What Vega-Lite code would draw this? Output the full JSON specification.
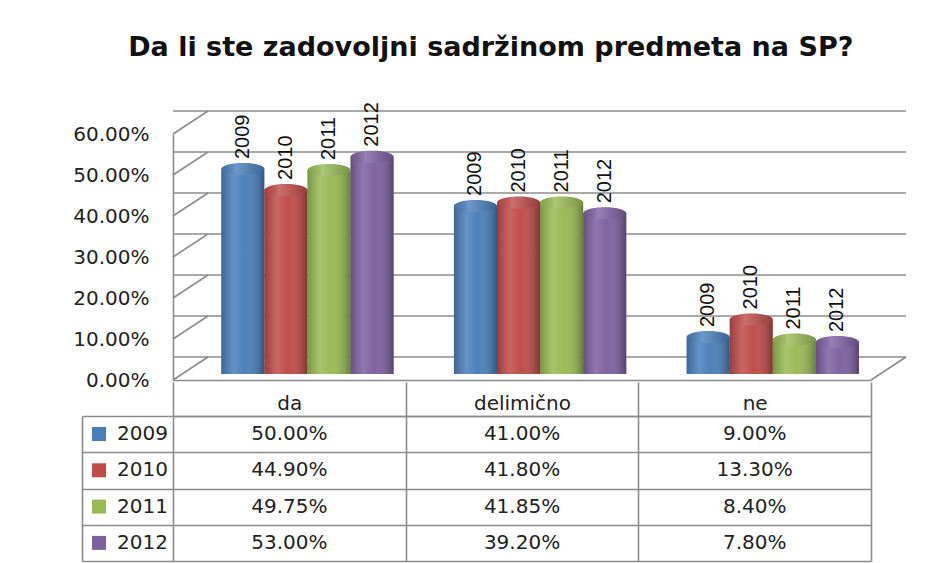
{
  "$schema": "https://vega.github.io/schema/vega-lite/v6.json",
  "padding": {"left": 72, "top": 34, "right": 10, "bottom": 4},
  "background": "white",
  "title": {"text": "Da li ste zadovoljni sadržinom predmeta na SP?", "font": "DejaVu Sans", "fontSize": 27, "fontWeight": "bold", "color": "#111111", "anchor": "middle", "dx": 1, "offset": 40},
  "datasets": {
    "main": [
      {"cat": "da", "year": "2009", "value": 0.5},
      {"cat": "da", "year": "2010", "value": 0.449},
      {"cat": "da", "year": "2011", "value": 0.4975},
      {"cat": "da", "year": "2012", "value": 0.53},
      {"cat": "delimično", "year": "2009", "value": 0.41},
      {"cat": "delimično", "year": "2010", "value": 0.418},
      {"cat": "delimično", "year": "2011", "value": 0.4185},
      {"cat": "delimično", "year": "2012", "value": 0.392},
      {"cat": "ne", "year": "2009", "value": 0.09},
      {"cat": "ne", "year": "2010", "value": 0.133},
      {"cat": "ne", "year": "2011", "value": 0.084},
      {"cat": "ne", "year": "2012", "value": 0.078}
    ],
    "ticks": [{"v": 0}, {"v": 0.1}, {"v": 0.2}, {"v": 0.3}, {"v": 0.4}, {"v": 0.5}, {"v": 0.6}]
  },
  "spacing": 36,
  "bounds": "flush",
  "resolve": {"scale": {"x": "independent", "y": "independent"}},
  "config": {
    "view": {"stroke": null},
    "legend": {
      "orient": "none", "legendX": -84, "legendY": 290,
      "title": null, "symbolType": "square", "symbolSize": 196, "symbolStrokeWidth": 0,
      "labelFont": "DejaVu Sans", "labelFontSize": 20, "labelColor": "#222222",
      "rowPadding": 16.3, "labelOffset": 8, "padding": 0
    }
  },
  "vconcat": [
    {
      "width": 698,
      "height": 246,
      "layer": [
        {
          "data": {"name": "ticks"},
          "mark": {"type": "rule", "color": "#8c8c8c", "strokeWidth": 1.6, "xOffset": 35, "x2Offset": 35, "yOffset": -23},
          "encoding": {
            "y": {"field": "v", "type": "quantitative", "scale": {"domain": [0, 0.6]},
              "axis": {"title": null, "format": ".2%", "values": [0, 0.1, 0.2, 0.3, 0.4, 0.5, 0.6], "grid": false, "ticks": false,
                "labelFont": "DejaVu Sans", "labelFontSize": 20, "labelColor": "#222222", "labelPadding": 24,
                "domain": true, "domainColor": "#8c8c8c", "domainWidth": 1.6}}
          }
        },
        {
          "data": {"name": "ticks"},
          "mark": {"type": "rule", "color": "#8c8c8c", "strokeWidth": 1.6, "x2Offset": 35, "y2Offset": -23},
          "encoding": {
            "x": {"datum": "da", "bandPosition": 0},
            "x2": {"datum": "da", "bandPosition": 0},
            "y": {"field": "v", "type": "quantitative"},
            "y2": {"field": "v"}
          }
        },
        {
          "data": {"name": "ticks"},
          "transform": [{"filter": "datum.v == 0"}],
          "mark": {"type": "rule", "color": "#8c8c8c", "strokeWidth": 1.6, "x2Offset": 35, "y2Offset": -23},
          "encoding": {
            "x": {"datum": "ne", "bandPosition": 1},
            "x2": {"datum": "ne", "bandPosition": 1},
            "y": {"field": "v", "type": "quantitative"},
            "y2": {"field": "v"}
          }
        },
        {
          "data": {"name": "main"},
          "mark": {"type": "point", "filled": true, "opacity": 1, "size": 1849, "yOffset": -12, "strokeWidth": 0,
            "shape": "M-1,0A1,0.28,0,1,0,1,0A1,0.28,0,1,0,-1,0Z"},
          "encoding": {
            "x": {"field": "cat", "type": "nominal", "sort": ["da", "delimično", "ne"], "scale": {"paddingInner": 0, "paddingOuter": 0},
              "axis": {"title": null, "labels": false, "ticks": false, "grid": false, "domain": true, "domainColor": "#8c8c8c", "domainWidth": 1.6}},
            "xOffset": {"field": "year", "type": "nominal", "scale": {"paddingInner": 0, "paddingOuter": 0.7, "align": 0.8}},
            "y": {"datum": 0, "type": "quantitative"},
            "color": {"field": "year", "type": "nominal", "scale": {"domain": ["2009", "2010", "2011", "2012"], "range": ["#4A7EBB", "#BE4B48", "#98B954", "#7D60A0"]}}
          }
        },
        {
          "data": {"name": "main"},
          "mark": {"type": "point", "filled": true, "opacity": 1, "size": 1849, "yOffset": -12, "strokeWidth": 0,
            "shape": "M-1,0A1,0.28,0,1,0,1,0A1,0.28,0,1,0,-1,0Z",
            "fill": {"gradient": "linear", "x1": 0, "x2": 1, "y1": 0, "y2": 0, "stops": [
              {"offset": 0, "color": "rgba(0,0,0,0.2)"},
              {"offset": 0.3, "color": "rgba(255,255,255,0.15)"},
              {"offset": 0.55, "color": "rgba(255,255,255,0.02)"},
              {"offset": 1, "color": "rgba(0,0,0,0.32)"}]}},
          "encoding": {
            "x": {"field": "cat", "type": "nominal", "sort": ["da", "delimično", "ne"]},
            "xOffset": {"field": "year", "type": "nominal"},
            "y": {"datum": 0, "type": "quantitative"}
          }
        },
        {
          "data": {"name": "main"},
          "mark": {"type": "bar", "yOffset": -6, "y2Offset": -12},
          "encoding": {
            "x": {"field": "cat", "type": "nominal", "sort": ["da", "delimično", "ne"]},
            "xOffset": {"field": "year", "type": "nominal"},
            "y": {"field": "value", "type": "quantitative"},
            "color": {"field": "year", "type": "nominal"}
          }
        },
        {
          "data": {"name": "main"},
          "mark": {"type": "bar", "yOffset": -6, "y2Offset": -12,
            "fill": {"gradient": "linear", "x1": 0, "x2": 1, "y1": 0, "y2": 0, "stops": [
              {"offset": 0, "color": "rgba(0,0,0,0.2)"},
              {"offset": 0.3, "color": "rgba(255,255,255,0.15)"},
              {"offset": 0.55, "color": "rgba(255,255,255,0.02)"},
              {"offset": 1, "color": "rgba(0,0,0,0.32)"}]}},
          "encoding": {
            "x": {"field": "cat", "type": "nominal", "sort": ["da", "delimično", "ne"]},
            "xOffset": {"field": "year", "type": "nominal"},
            "y": {"field": "value", "type": "quantitative"}
          }
        },
        {
          "data": {"name": "main"},
          "mark": {"type": "point", "filled": true, "opacity": 1, "size": 1849, "yOffset": -6, "strokeWidth": 0,
            "shape": "M-1,0A1,0.28,0,1,0,1,0A1,0.28,0,1,0,-1,0Z"},
          "encoding": {
            "x": {"field": "cat", "type": "nominal", "sort": ["da", "delimično", "ne"]},
            "xOffset": {"field": "year", "type": "nominal"},
            "y": {"field": "value", "type": "quantitative"},
            "color": {"field": "year", "type": "nominal"}
          }
        },
        {
          "data": {"name": "main"},
          "mark": {"type": "point", "filled": true, "opacity": 1, "size": 1849, "yOffset": -6, "strokeWidth": 0,
            "shape": "M-1,0A1,0.28,0,1,0,1,0A1,0.28,0,1,0,-1,0Z",
            "fill": {"gradient": "linear", "x1": 0, "x2": 1, "y1": 0, "y2": 0, "stops": [
              {"offset": 0, "color": "rgba(0,0,0,0.1)"},
              {"offset": 0.35, "color": "rgba(255,255,255,0.2)"},
              {"offset": 1, "color": "rgba(0,0,0,0.2)"}]}},
          "encoding": {
            "x": {"field": "cat", "type": "nominal", "sort": ["da", "delimično", "ne"]},
            "xOffset": {"field": "year", "type": "nominal"},
            "y": {"field": "value", "type": "quantitative"}
          }
        },
        {
          "data": {"name": "main"},
          "mark": {"type": "text", "angle": 270, "align": "left", "baseline": "middle", "dx": 16, "font": "Liberation Sans", "fontSize": 20, "color": "#111111"},
          "encoding": {
            "x": {"field": "cat", "type": "nominal", "sort": ["da", "delimično", "ne"]},
            "xOffset": {"field": "year", "type": "nominal"},
            "y": {"field": "value", "type": "quantitative"},
            "text": {"field": "year"}
          }
        }
      ]
    },
    {
      "width": 698,
      "height": 145,
      "data": {"name": "main"},
      "mark": {"type": "text", "font": "DejaVu Sans", "fontSize": 20, "color": "#222222"},
      "encoding": {
        "x": {"field": "cat", "type": "nominal", "sort": ["da", "delimično", "ne"], "scale": {"paddingInner": 0, "paddingOuter": 0},
          "axis": {"orient": "top", "title": null, "labelAngle": 0, "labelFont": "DejaVu Sans", "labelFontSize": 20, "labelColor": "#222222",
            "tickBand": "extent", "tickSize": 34, "labelPadding": -27, "labelBaseline": "alphabetic",
            "grid": true, "gridColor": "#8c8c8c", "gridWidth": 1.6, "tickColor": "#8c8c8c", "tickWidth": 1.6, "domainColor": "#8c8c8c", "domainWidth": 1.6}},
        "y": {"field": "year", "type": "nominal", "scale": {"paddingInner": 0, "paddingOuter": 0},
          "axis": {"title": null, "labels": false, "offset": 91, "tickSize": -91, "tickBand": "extent",
            "grid": true, "gridColor": "#8c8c8c", "gridWidth": 1.6, "tickColor": "#8c8c8c", "tickWidth": 1.6, "domainColor": "#8c8c8c", "domainWidth": 1.6}},
        "text": {"field": "value", "type": "quantitative", "format": ".2%"}
      }
    }
  ]
}
